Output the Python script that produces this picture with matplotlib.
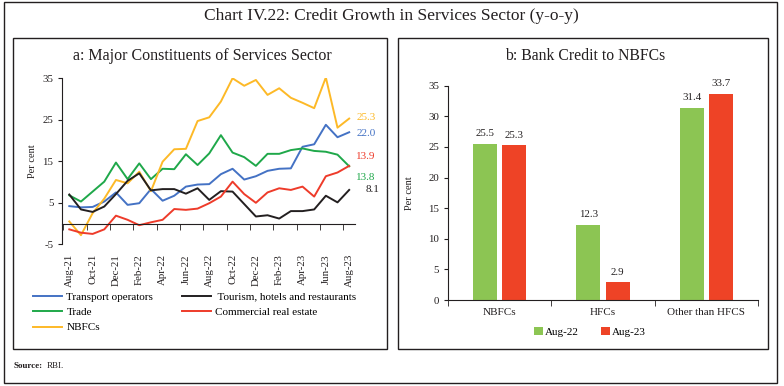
import matplotlib
matplotlib.use('Agg')
import matplotlib.pyplot as plt
from matplotlib.patches import Rectangle
import pandas as pd

plt.rcParams['font.family'] = ['Liberation Serif', 'DejaVu Serif']
plt.rcParams['axes.unicode_minus'] = False

# panel a: monthly y-o-y growth, Aug-21 to Aug-23
months = list(pd.date_range('2021-08-01', periods=25, freq='MS').strftime('%b-%y'))
transport = [4.2, 3.9, 4.0, 5.3, 7.5, 4.5, 4.9, 8.3, 5.5, 6.7, 8.9, 9.4, 9.5,
             11.9, 13.2, 10.6, 11.4, 12.7, 13.2, 13.3, 18.5, 19.1, 23.8, 20.8, 22.0]
tourism = [7.0, 3.4, 2.8, 4.1, 7.1, 10.3, 12.1, 8.0, 8.3, 8.3, 7.2, 8.5, 5.7,
           7.8, 7.7, 4.7, 1.7, 2.0, 1.2, 3.0, 3.0, 3.4, 6.7, 5.1, 8.1]
trade = [6.8, 5.3, 7.7, 10.1, 14.7, 10.7, 14.5, 10.7, 13.2, 13.1, 16.7, 14.1, 16.9,
         21.3, 17.1, 16.0, 13.9, 16.8, 16.8, 17.7, 18.1, 17.5, 17.3, 16.6, 13.8]
cre = [-1.4, -2.2, -2.5, -1.4, 1.9, 0.9, -0.4, 0.3, 0.9, 3.5, 3.3, 3.6, 4.9,
       6.5, 10.1, 7.1, 5.0, 7.5, 8.5, 8.1, 8.9, 6.5, 11.4, 12.3, 13.9]
nbfcs = [0.5, -2.8, 2.5, 6.0, 10.5, 9.7, 12.5, 7.8, 14.9, 17.9, 18.0, 24.7, 25.6,
         29.4, 35.0, 33.2, 34.6, 31.0, 32.6, 30.3, 29.1, 27.8, 35.2, 23.1, 25.3]

# panel b
groups = ['NBFCs', 'HFCs', 'Other than HFCS']
aug22 = [25.5, 12.3, 31.4]
aug23 = [25.3, 2.9, 33.7]

W, H = 784, 386
def fx(px):
    return px / W
def fy(py):
    return 1 - py / H

fig = plt.figure(figsize=(W / 100, H / 100), dpi=100)
dark = '#231F20'

# frames
for (x0, y0, x1, y1) in [(4, 2, 777, 383), (13, 38, 387, 349), (398, 38, 768, 349)]:
    fig.add_artist(Rectangle((fx(x0), fy(y1)), fx(x1) - fx(x0), fy(y0) - fy(y1),
                             transform=fig.transFigure, fill=False, ec=dark, lw=1.0))

fig.text(fx(391), fy(16), 'Chart IV.22: Credit Growth in Services Sector (y-o-y)',
         ha='center', va='center', fontsize=12.5, color=dark)
fig.text(fx(202), fy(56), 'a: Major Constituents of Services Sector',
         ha='center', va='center', fontsize=11.5, color=dark)
fig.text(fx(585), fy(56), 'b: Bank Credit to NBFCs',
         ha='center', va='center', fontsize=11.3, color=dark)
fig.text(fx(14), fy(366), 'Source:', fontsize=6.5, fontweight='bold', va='center', color=dark)
fig.text(fx(47), fy(366), 'RBI.', fontsize=6.5, va='center', color=dark)

# ---- panel a ----
ax = fig.add_axes([fx(62.3), fy(244.3), fx(355) - fx(62.3), fy(78.3) - fy(244.3)])
x = list(range(len(months)))
series = [
    ('Transport operators', transport, '#4472C4'),
    ('Trade', trade, '#1FA84A'),
    ('NBFCs', nbfcs, '#FDB927'),
    (' Tourism, hotels and restaurants', tourism, dark),
    ('Commercial real estate', cre, '#EE3B2A'),
]
for name, vals, col in series:
    ax.plot(x, vals, color=col, lw=1.4, label=name)

end_offsets = {'NBFCs': 1, 'Transport operators': -1, 'Commercial real estate': 7,
               'Trade': -8, ' Tourism, hotels and restaurants': 0}
for name, vals, col in series:
    dx = 12 if name.startswith(' Tourism') else 5
    ax.annotate(f'{vals[-1]:.1f}', (x[-1], vals[-1]), xytext=(dx, end_offsets[name]),
                textcoords='offset points', va='center', ha='left', fontsize=8, color=col)

ax.set_xlim(-0.6, 24.5)
ax.set_ylim(-5, 35)
ax.set_yticks([-5, 5, 15, 25, 35])
ax.set_xticks(x[::2])
ax.set_xticklabels(months[::2])
ax.set_xticks([i + 1.5 for i in range(-2, 24, 2)], minor=True)
ax.tick_params(axis='x', which='major', length=0, pad=22, labelsize=7.8, colors=dark,
               labelrotation=90)
ax.tick_params(axis='x', which='minor', length=4, direction='out', color=dark)
ax.tick_params(axis='y', length=3, direction='out', labelsize=7.8, colors=dark)
ax.spines['top'].set_visible(False)
ax.spines['right'].set_visible(False)
ax.spines['bottom'].set_position(('data', 0))
ax.spines['left'].set_color(dark)
ax.spines['bottom'].set_color(dark)
ax.set_ylabel('Per cent', fontsize=7.5, color=dark, labelpad=4)
ax.patch.set_alpha(0)

ax.legend(loc='upper left', bbox_to_anchor=(fx(33), fy(292)), bbox_transform=fig.transFigure,
          ncol=2, frameon=False, fontsize=8, handlelength=2.6, handletextpad=0.4,
          columnspacing=2.6, labelspacing=0.5, borderpad=0, borderaxespad=0)

# ---- panel b ----
bx = fig.add_axes([fx(448), fy(300), fx(758) - fx(448), fy(85.7) - fy(300)])
pos = list(range(len(groups)))
b1 = bx.bar([p - 0.142 for p in pos], aug22, width=0.232, color='#8CC553', label='Aug-22')
b2 = bx.bar([p + 0.142 for p in pos], aug23, width=0.232, color='#EE4326', label='Aug-23')
bx.bar_label(b1, fmt='%.1f', padding=4, fontsize=7.8, color=dark)
bx.bar_label(b2, fmt='%.1f', padding=4, fontsize=7.8, color=dark)
bx.set_xlim(-0.5, 2.5)
bx.set_ylim(0, 35)
bx.set_yticks(range(0, 36, 5))
bx.set_xticks(pos)
bx.set_xticklabels(groups)
bx.set_xticks([-0.5, 0.5, 1.5, 2.5], minor=True)
bx.tick_params(axis='x', which='major', length=0, pad=6, labelsize=8, colors=dark)
bx.tick_params(axis='x', which='minor', length=4, direction='out', color=dark)
bx.tick_params(axis='y', length=3, direction='out', labelsize=7.8, colors=dark)
bx.spines['top'].set_visible(False)
bx.spines['right'].set_visible(False)
bx.spines['left'].set_color(dark)
bx.spines['bottom'].set_color(dark)
bx.set_ylabel('Per cent', fontsize=7.5, color=dark, labelpad=10)
bx.legend(loc='center', bbox_to_anchor=(fx(590), fy(332)), bbox_transform=fig.transFigure,
          ncol=2, frameon=False, fontsize=8, handlelength=0.8, handleheight=0.8,
          handletextpad=0.2, columnspacing=2.0, borderpad=0)

fig.savefig('out.png', dpi=100)
